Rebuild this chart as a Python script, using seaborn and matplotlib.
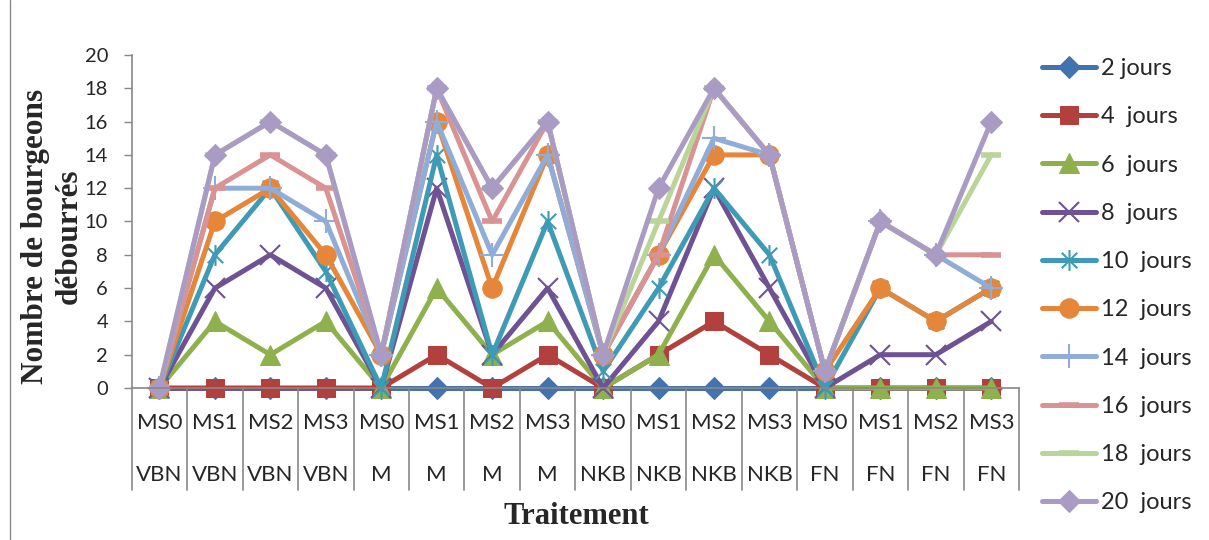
""" Nombre de bourgeons débourrés par traitement """
import numpy as np
import pandas as pd
import matplotlib
matplotlib.use("Agg")
import matplotlib.pyplot as plt
from matplotlib.path import Path
from matplotlib.lines import Line2D
import seaborn as sns

# Data: BEGIN
sous_traitements = ["MS0", "MS1", "MS2", "MS3"] * 4
traitements = ["VBN"] * 4 + ["M"] * 4 + ["NKB"] * 4 + ["FN"] * 4
series_labels = ["2 jours", "4  jours", "6  jours", "8  jours", "10  jours",
                 "12  jours", "14  jours", "16  jours", "18  jours", "20  jours"]

j2 = [0, 0, 0, 0, 0, 0, 0, 0, 0, 0, 0, 0, 0, 0, 0, 0]
j4 = [0, 0, 0, 0, 0, 2, 0, 2, 0, 2, 4, 2, 0, 0, 0, 0]
j6 = [0, 4, 2, 4, 0, 6, 2, 4, 0, 2, 8, 4, 0, 0, 0, 0]
j8 = [0, 6, 8, 6, 0, 12, 2, 6, 0, 4, 12, 6, 0, 2, 2, 4]
j10 = [0, 8, 12, 7, 0, 14, 2, 10, 1, 6, 12, 8, 0, 6, 4, 6]
j12 = [0, 10, 12, 8, 2, 16, 6, 14, 2, 8, 14, 14, 1, 6, 4, 6]
j14 = [0, 12, 12, 10, 2, 16, 8, 14, 2, 8, 15, 14, 1, 10, 8, 6]
j16 = [0, 12, 14, 12, 2, 18, 10, 16, 2, 8, 18, 14, 1, 10, 8, 8]
j18 = [0, 14, 16, 14, 2, 18, 12, 16, 2, 10, 18, 14, 1, 10, 8, 14]
j20 = [0, 14, 16, 14, 2, 18, 12, 16, 2, 12, 18, 14, 1, 10, 8, 16]
series_values = [j2, j4, j6, j8, j10, j12, j14, j16, j18, j20]
# Data: END

colors = ["#4373AE", "#B2403D", "#8EB14E", "#6E5293", "#3F9BB5",
          "#E5863A", "#8FADD8", "#D99392", "#BBD49A", "#A99BC4"]

# asterisk marker (x + vertical bar) like the spreadsheet one
asterisk = Path([(-1, -1), (1, 1), (-1, 1), (1, -1), (0, -1.35), (0, 1.35)],
                [Path.MOVETO, Path.LINETO, Path.MOVETO, Path.LINETO,
                 Path.MOVETO, Path.LINETO])

marker_styles = [
    dict(marker="D", markersize=11),
    dict(marker="s", markersize=13),
    dict(marker="^", markersize=14),
    dict(marker="x", markersize=14, markeredgewidth=1.5),
    dict(marker=asterisk, markersize=15, markeredgewidth=1.5),
    dict(marker="o", markersize=14),
    dict(marker="+", markersize=17, markeredgewidth=1.5),
    dict(marker="_", markersize=14, markeredgewidth=4),
    dict(marker="_", markersize=14, markeredgewidth=4),
    dict(marker="D", markersize=11),
]

sns.set_style("white")
plt.rcParams["font.family"] = ["Lato", "DejaVu Sans"]

W, H = 1209, 540
fig = plt.figure(figsize=(W / 100, H / 100), dpi=100)
ax = fig.add_axes([131.7 / W, 1 - 388 / H, (1019 - 131.7) / W, (388 - 55) / H])

positions = np.arange(len(sous_traitements))
for label, vals, col, ms in zip(series_labels, series_values, colors, marker_styles):
    df = pd.DataFrame({"pos": positions, "val": vals})
    sns.lineplot(data=df, x="pos", y="val", ax=ax, color=col, lw=3.6,
                 markeredgecolor=col, markerfacecolor=col, label=label,
                 clip_on=False, **ms)

ax.set_xlim(-0.5, len(positions) - 0.5)
ax.set_ylim(0, 20)
ax.set_yticks(range(0, 21, 2))
ax.set_xticks([])
ax.set_xlabel("")
ax.set_ylabel("")
ax.tick_params(axis="y", left=True, length=6, width=1, color="#888888",
               labelsize=14.5, pad=11)
for sp in ["top", "right"]:
    ax.spines[sp].set_visible(False)
for sp in ["left", "bottom"]:
    ax.spines[sp].set_color("#888888")
    ax.spines[sp].set_linewidth(1.2)

# two-level category axis
trans = ax.get_xaxis_transform()
for i, (ms_lab, tr_lab) in enumerate(zip(sous_traitements, traitements)):
    ax.text(i, -0.105, ms_lab, transform=trans, ha="center", va="center",
            fontsize=16)
    ax.text(i, -0.261, tr_lab, transform=trans, ha="center", va="center",
            fontsize=16)
for b in np.arange(-0.5, len(positions), 1.0):
    ax.plot([b, b], [0, -0.306], transform=trans, color="#888888", lw=1.2,
            clip_on=False)

fig.text(52 / W, 1 - 236 / H, "Nombre de bourgeons\ndébourrés", rotation=90,
         ha="center", va="center", multialignment="center", fontsize=22.5,
         fontweight="bold", family="Liberation Serif", linespacing=1.22)
fig.text(576 / W, 1 - 516 / H, "Traitement", ha="center", va="center",
         fontsize=22, fontweight="bold", family="Liberation Serif")

handles, labels = ax.get_legend_handles_labels()
ax.get_legend().remove()
fig.legend(handles, labels, loc="upper left", bbox_to_anchor=(1042 / W, 1 - 58 / H),
           frameon=False, borderpad=0, borderaxespad=0, fontsize=17,
           handlelength=2.3, handletextpad=0.2, labelspacing=1.155)

fig.add_artist(Line2D([10 / W, 10 / W], [0, 1], transform=fig.transFigure,
                      color="#888888", lw=1))

fig.savefig("out.png", dpi=100)
